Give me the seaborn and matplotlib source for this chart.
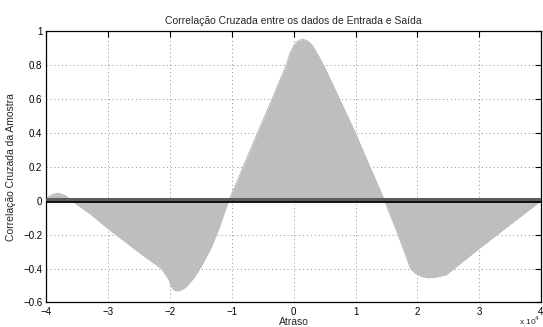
import numpy as np
import pandas as pd
import matplotlib
matplotlib.use("Agg")
import matplotlib.pyplot as plt
import seaborn as sns

# Sample cross-correlation between input and output (lag, value)
lags = [-40000, -39000, -38000, -37000, -35900, -33000, -30000, -25000,
        -21400, -20850, -20150, -19800, -19300, -18700, -18000, -17350,
        -16000, -14700, -13300, -12000, -10800, -10500, -6000, -3500,
        -1200, -600, 0, 600, 1450, 2300, 3000, 3900, 4800, 7400, 9950,
        12300, 14700, 16800, 18900, 19700, 20800, 21800, 23000, 24600,
        30000, 35000, 40000]
corr = [0.015, 0.038, 0.044, 0.030, 0.000, -0.075, -0.165, -0.305,
        -0.400, -0.428, -0.467, -0.506, -0.528, -0.532, -0.522, -0.506,
        -0.447, -0.369, -0.271, -0.153, -0.025, 0.000, 0.387, 0.600,
        0.800, 0.870, 0.915, 0.940, 0.953, 0.940, 0.915, 0.860, 0.800,
        0.600, 0.400, 0.200, 0.000, -0.192, -0.400, -0.428, -0.448,
        -0.454, -0.450, -0.438, -0.281, -0.140, 0.000]

# Confidence bound levels
upper_bound = 0.011
lower_bound = -0.005

x_ticks = [-40000, -30000, -20000, -10000, 0, 10000, 20000, 30000, 40000]
x_labels = ["\u22124", "\u22123", "\u22122", "\u22121", "0", "1", "2", "3", "4"]
y_ticks = [-0.6, -0.4, -0.2, 0, 0.2, 0.4, 0.6, 0.8, 1]
y_labels = ["\u22120.6", "\u22120.4", "\u22120.2", "0", "0.2", "0.4", "0.6", "0.8", "1"]

df = pd.DataFrame({"lag": lags, "corr": corr})

sns.set_style("white")
plt.rcParams["font.family"] = ["Liberation Sans", "DejaVu Sans"]

fig = plt.figure(figsize=(5.43, 3.27), dpi=100)
ax = fig.add_axes([0.0856, 0.075, 0.9107, 0.830])

fill_color = "#bebebe"
ax.fill_between(df["lag"], 0, df["corr"], color=fill_color, linewidth=0, zorder=2)
sns.lineplot(data=df, x="lag", y="corr", color=fill_color, linewidth=0.8,
             ax=ax, zorder=2, sort=False)

ax.axhline(upper_bound, color="#5c5c5c", linewidth=2.2, zorder=3)
ax.axhline(lower_bound, color="black", linewidth=1.3, zorder=4)

ax.set_xlim(-40000, 40000)
ax.set_ylim(-0.6, 1.0)
ax.set_xticks(x_ticks)
ax.set_xticklabels(x_labels)
ax.set_yticks(y_ticks)
ax.set_yticklabels(y_labels)

ax.grid(True, linestyle=(0, (1, 3)), color="#8c8c8c", linewidth=0.7, zorder=1)
ax.set_axisbelow(True)
ax.tick_params(direction="in", length=4, width=0.8, top=True, right=True,
               labelsize=7, pad=3, colors="black")
for s in ax.spines.values():
    s.set_color("black")
    s.set_linewidth(0.9)

ax.set_title("Correlação Cruzada entre os dados de Entrada e Saída",
             fontsize=7.5, pad=5)
ax.set_xlabel("Atraso", fontsize=7.5, labelpad=0)
ax.set_ylabel("Correlação Cruzada da Amostra", fontsize=7.5, labelpad=5)
ax.text(0.998, -0.044, "x 10$^4$", transform=ax.transAxes, fontsize=6,
        ha="right", va="top")

fig.savefig("out.png", dpi=100)
